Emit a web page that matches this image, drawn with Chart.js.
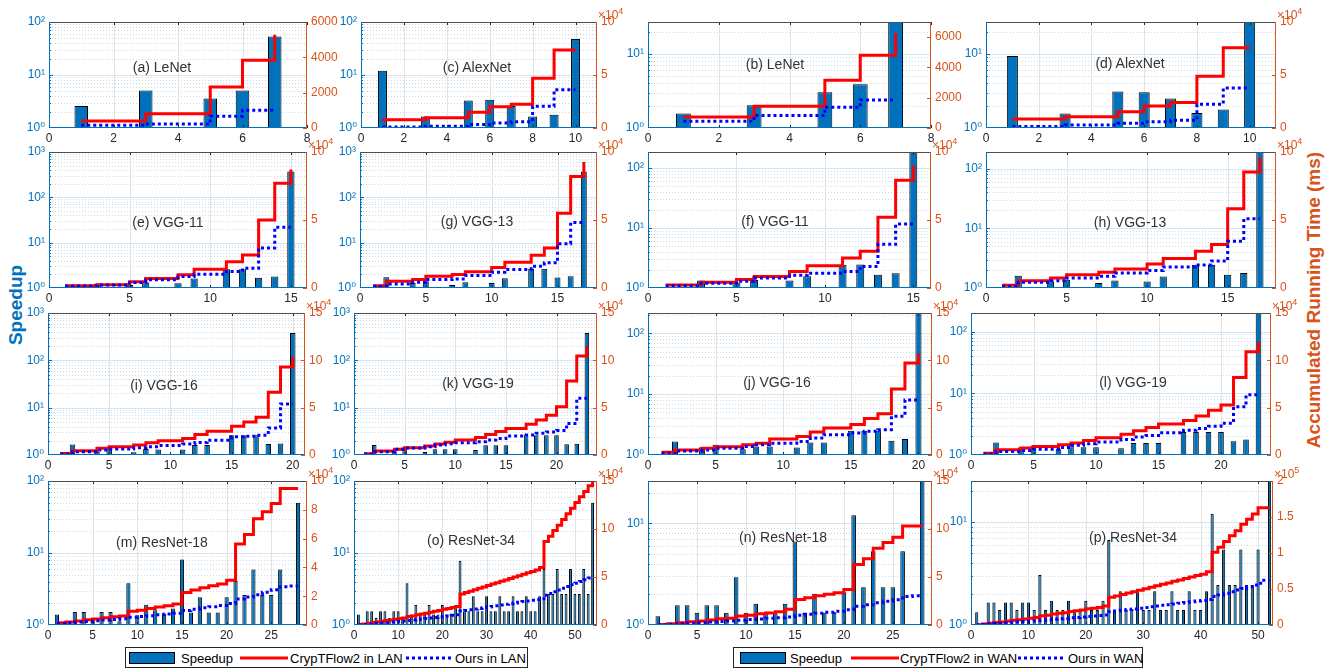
<!DOCTYPE html>
<html>
<head>
<meta charset="utf-8">
<script src="https://cdn.jsdelivr.net/npm/chart.js@4.4.0/dist/chart.umd.min.js"></script>
<style>
  body { margin: 0; background: #fff; width: 1328px; height: 671px; position: relative; overflow: hidden;
         font-family: 'Liberation Sans', Arial, 'DejaVu Sans', sans-serif; }
  canvas { position: absolute; }
  .ptitle { position: absolute; transform: translate(-50%, -50%); font-size: 14px; color: #333; white-space: nowrap; }
  .vlabel { position: absolute; font-weight: bold; font-size: 19px; white-space: nowrap;
            transform: translate(-50%, -50%) rotate(-90deg); }
  .legend { position: absolute; top: 647px; height: 21px; border: 1px solid #262626; background: #fff;
            box-sizing: border-box; font-size: 13px; color: #000; }
  .legend span { position: absolute; top: 50%; transform: translateY(-50%); white-space: nowrap; }
  .sw-bar { width: 46px; height: 12px; background: #0072BD; border: 1px solid #000; box-sizing: border-box; }
  .sw-red { width: 48px; height: 3px; background: #f00; }
  .sw-blue { width: 45px; height: 3px; background: repeating-linear-gradient(90deg, #00f 0 3px, transparent 3px 6px); }
</style>
</head>
<body>
<div class="vlabel" style="left:16px;top:305px;color:#0072BD">Speedup</div>
<div class="vlabel" style="left:1314px;top:300px;color:#D95319">Accumulated Running Time (ms)</div>

<div class="legend" style="left:125px;width:403px">
  <span class="sw-bar" style="left:3px"></span><span style="left:55px">Speedup</span>
  <span class="sw-red" style="left:114px"></span><span style="left:164px">CrypTFlow2 in LAN</span>
  <span class="sw-blue" style="left:280px"></span><span style="left:329px">Ours in LAN</span>
</div>
<div class="legend" style="left:733px;width:410px">
  <span class="sw-bar" style="left:6px"></span><span style="left:56px">Speedup</span>
  <span class="sw-red" style="left:117px"></span><span style="left:166px">CrypTFlow2 in WAN</span>
  <span class="sw-blue" style="left:284px"></span><span style="left:334px">Ours in WAN</span>
</div>

<script>
// (a) LeNet LAN
const speedupA = [2.6, 1.03, 5.1, 1.03, 3.6, 5.1, 53]
const crypA = [400, 400, 800, 800, 2320, 3830, 5280]
const oursA = [150, 150, 230, 230, 660, 1000, 1000]
// (c) AlexNet LAN
const speedupC = [12, 1.0, 1.65, 1.0, 3.3, 3.4, 2.6, 1.65, 1.78, 48]
const crypC = [7900, 7900, 9700, 9700, 14800, 20000, 22400, 47000, 73500, 73500]
const oursC = [1000, 1000, 1600, 1600, 3200, 4700, 6000, 20500, 36000, 36000]
// (b) LeNet WAN
const speedupB = [1.57, 1.0, 2.03, 1.03, 3.03, 3.9, 40]
const crypB = [720, 720, 1440, 1440, 3160, 4800, 6280]
const oursB = [440, 440, 830, 830, 1370, 1850, 1850]
// (d) AlexNet WAN
const speedupD = [9.4, 1.0, 1.57, 1.0, 3.1, 3.05, 2.5, 1.6, 1.78, 48]
const crypD = [8600, 8600, 10500, 10500, 15300, 20800, 24000, 48900, 75700, 75700]
const oursD = [1300, 1300, 2900, 2900, 4500, 5800, 7300, 22400, 37700, 37700]
// (e) VGG-11 LAN
const speedupE = [1.05, 1.0, 1.26, 1.0, 1.16, 1.33, 1.0, 1.28, 1.62, 1.0, 2.6, 2.6, 1.68, 1.79, 372]
const crypE = [1700, 1700, 2400, 2400, 4600, 7000, 7000, 9700, 13800, 13800, 19300, 24200, 50000, 77000, 87200]
const oursE = [1450, 1450, 2200, 2200, 4100, 6000, 6000, 8500, 10100, 10100, 12100, 14500, 29500, 44700, 44700]
// (g) VGG-13 LAN
const speedupG = [1.05, 1.73, 1.0, 1.29, 1.41, 1.0, 1.17, 1.34, 1.0, 1.29, 1.64, 1.0, 2.65, 2.65, 1.7, 1.82, 372]
const crypG = [1700, 4900, 4900, 6200, 8600, 8600, 9900, 11900, 11900, 15100, 19000, 19000, 24000, 29400, 55000, 82000, 92600]
const oursG = [1200, 3000, 3000, 4200, 6200, 6200, 6700, 9100, 9100, 11600, 13600, 13600, 16000, 18500, 32600, 48100, 48100]
// (f) VGG-11 WAN
const speedupF = [1.03, 1.0, 1.33, 1.0, 1.24, 1.36, 1.02, 1.33, 1.57, 1.02, 2.43, 2.46, 1.67, 1.76, 300]
const crypF = [2200, 2200, 4200, 4200, 6200, 8400, 8400, 12100, 16300, 16300, 22000, 27000, 52000, 79200, 90100]
const oursF = [1700, 1700, 3500, 3500, 5000, 7400, 7400, 9400, 10900, 10900, 12100, 15800, 32200, 47000, 47000]
// (h) VGG-13 WAN
const speedupH = [1.03, 1.6, 1.0, 1.29, 1.38, 1.0, 1.21, 1.34, 1.0, 1.29, 1.56, 1.0, 2.45, 2.45, 1.67, 1.78, 300]
const crypH = [2000, 5400, 5400, 7400, 9800, 9800, 11500, 14000, 14000, 17700, 21600, 21600, 27000, 31900, 58200, 85300, 95800]
const oursH = [1200, 4200, 4200, 5400, 7400, 7400, 8600, 11000, 11000, 12800, 15500, 15500, 17000, 19900, 34400, 50900, 50900]
// (i) VGG-16 LAN
const speedupI = [1.05, 1.67, 1.0, 1.17, 1.49, 1.0, 1.14, 1.34, 1.31, 1.0, 1.31, 1.62, 1.62, 1.0, 2.6, 2.6, 2.6, 1.7, 1.75, 380]
const crypI = [1700, 4500, 4500, 7000, 8700, 8700, 10500, 12900, 15000, 15000, 17400, 21600, 25100, 25100, 30300, 34800, 40000, 66200, 93000, 103500]
const oursI = [1000, 3500, 3500, 5200, 6300, 6300, 7700, 8700, 10100, 10100, 11500, 13200, 15700, 15700, 19200, 19900, 20900, 28600, 54000, 54000]
// (k) VGG-19 LAN
const speedupK = [1.05, 1.62, 1.0, 1.2, 1.47, 1.0, 1.16, 1.32, 1.32, 1.32, 1.0, 1.27, 1.6, 1.6, 1.6, 1.0, 2.6, 2.6, 2.6, 2.6, 1.68, 1.73, 380]
const crypK = [1400, 4200, 4200, 6000, 7700, 7700, 9500, 11500, 13500, 15800, 15800, 18500, 21600, 24800, 28000, 28000, 32500, 37000, 42000, 51000, 78200, 104600, 115000]
const oursK = [1000, 3500, 3500, 6000, 7400, 7400, 8800, 10600, 12000, 13000, 13000, 14100, 15800, 17300, 20000, 20000, 21100, 22900, 24300, 26000, 33400, 59900, 59900]
// (j) VGG-16 WAN
const speedupJ = [1.04, 1.67, 1.0, 1.34, 1.47, 1.0, 1.24, 1.38, 1.38, 1.0, 1.33, 1.6, 1.6, 1.0, 2.5, 2.5, 2.5, 1.71, 1.83, 300]
const crypJ = [2800, 5400, 5400, 7100, 8600, 8600, 10700, 12500, 16800, 16800, 19600, 24300, 28600, 28600, 32100, 38600, 43600, 69600, 97100, 107000]
const oursJ = [1800, 4300, 4300, 5400, 7100, 7100, 8900, 10700, 12500, 12500, 14300, 17900, 21400, 21400, 23200, 25000, 26800, 41000, 58200, 58200]
// (l) VGG-19 WAN
const speedupL = [1.05, 1.6, 1.02, 1.34, 1.43, 1.02, 1.24, 1.38, 1.34, 1.34, 1.02, 1.29, 1.56, 1.56, 1.56, 1.02, 2.36, 2.36, 2.36, 2.36, 1.67, 1.78, 300]
const crypL = [1800, 5500, 5500, 7300, 9100, 9100, 10900, 12700, 15300, 18200, 18200, 21800, 25500, 29100, 32700, 32700, 36400, 41100, 47300, 52700, 81800, 109000, 119000]
const oursL = [1100, 3600, 3600, 4700, 6200, 6200, 8000, 10200, 12000, 13800, 13800, 16400, 18900, 20700, 23600, 23600, 26200, 28000, 30500, 33500, 50900, 63600, 63600]
// (m) ResNet-18 LAN
const speedupM = [1.4, 1.0, 1.52, 1.52, 1.19, 1.52, 1.52, 1.13, 3.8, 1.37, 1.91, 1.6, 1.44, 1.69, 8.1, 1.49, 2.43, 1.49, 1.49, 2.43,
  4.1, 2.62, 5.9, 2.62, 2.62, 5.9, 1.0, 50]
const crypM = [1500, 2000, 2800, 3600, 4200, 5000, 5800, 6300, 9500, 10300, 11500, 12500, 13300, 14500, 22500, 24300, 25900, 27200, 28500, 31000,
  56200, 62900, 73700, 78700, 84300, 94800, 94800, 94800]
const oursM = [1100, 1500, 2000, 2500, 2900, 3400, 3900, 4300, 5400, 5900, 6500, 7100, 7600, 8200, 10100, 11000, 11900, 12700, 13600, 15000,
  18000, 19500, 21000, 22800, 24500, 26500, 27000, 27000]
// (o) ResNet-34 LAN
const speedupO = [1.4, 1.0, 1.55, 1.55, 1.25, 1.55, 1.55, 1.25, 1.55, 1.55, 1.25, 3.8, 1.4, 1.9, 1.4, 1.4, 1.9, 1.4, 1.4, 1.9,
  1.4, 1.4, 1.9, 7.8, 1.55, 1.55, 2.5, 1.55, 1.55, 2.5, 1.55, 1.55, 2.5, 1.55, 1.55, 2.5, 1.55, 1.55, 2.5, 1.55,
  1.55, 2.5, 6.0, 2.7, 2.7, 6.0, 2.7, 2.7, 6.0, 2.7, 2.7, 6.0, 2.7, 50]
const crypO = [500, 1000, 1800, 2600, 3200, 4000, 4800, 5300, 6100, 6900, 7400, 8800, 9500, 10600, 11500, 12300, 13400, 14200, 15100, 16300,
  17200, 18100, 19400, 32400, 33800, 35200, 36800, 38200, 39600, 41200, 42600, 44000, 45600, 47000, 48400, 50000, 51400, 52800, 54400, 55800,
  57200, 60000, 87000, 92500, 98500, 104000, 110000, 116000, 121500, 127500, 133500, 139000, 145000, 149000]
const oursO = [300, 600, 1000, 1400, 1800, 2200, 2600, 3000, 3400, 3800, 4200, 4800, 5300, 5800, 6300, 6800, 7300, 7900, 8400, 9000,
  9500, 10100, 10700, 14500, 15200, 15900, 16600, 17300, 18000, 18700, 19400, 20100, 20800, 21500, 22200, 23000, 23700, 24400, 25100, 25800,
  26500, 27300, 31000, 32800, 34600, 36400, 38200, 40000, 41800, 43600, 45400, 47200, 49000, 50000]
// (n) ResNet-18 WAN
const speedupN = [1.22, 1.0, 1.56, 1.56, 1.32, 1.56, 1.56, 1.32, 2.94, 1.32, 1.62, 1.32, 1.3, 1.62, 6.6, 1.32, 2.03, 1.32, 1.32, 2.1,
  12, 2.35, 5.3, 2.35, 2.35, 5.3, 1.0, 40]
const crypN = [500, 1200, 2300, 3400, 4200, 5300, 6400, 7100, 9300, 10100, 11600, 12600, 13800, 16500, 26600, 28500, 30500, 32000, 33500, 37000,
  63000, 69000, 80000, 86000, 91500, 103000, 103000, 103000]
const oursN = [300, 800, 1400, 2000, 2500, 3100, 3700, 4200, 5000, 5600, 6300, 7000, 7600, 8300, 10200, 11200, 12300, 13300, 14300, 15900,
  19500, 21000, 23200, 24800, 26400, 29800, 30500, 30500]
// (p) ResNet-34 WAN
const speedupP = [1.33, 1.0, 1.65, 1.65, 1.4, 1.65, 1.65, 1.4, 1.65, 1.65, 1.4, 3.05, 1.4, 1.72, 1.4, 1.4, 1.72, 1.4, 1.4, 1.72,
  1.4, 1.4, 1.72, 6.7, 1.4, 2.13, 1.4, 1.4, 2.13, 1.4, 1.4, 2.13, 1.4, 1.4, 2.13, 1.4, 1.4, 2.13, 1.4, 1.4,
  2.13, 12, 2.45, 5.4, 2.45, 2.45, 5.4, 2.45, 2.45, 5.4, 1.0, 40]
const crypP = [500, 1300, 2400, 3500, 4300, 5400, 6500, 7300, 8400, 9500, 10300, 12700, 13600, 15200, 16200, 17100, 18700, 19700, 20700, 22400,
  23400, 24400, 26500, 38500, 40300, 42300, 44300, 46200, 48400, 50400, 52300, 54500, 56500, 58400, 60600, 62600, 64500, 66700, 68700, 70600,
  74000, 101000, 108000, 116000, 124000, 131000, 140000, 147000, 154000, 163000, 163000, 163000]
const oursP = [300, 800, 1400, 2000, 2500, 3100, 3700, 4200, 4800, 5400, 5900, 6700, 7300, 8000, 8600, 9200, 9900, 10500, 11100, 11900,
  12500, 13200, 14000, 18500, 19400, 20400, 21400, 22300, 23300, 24300, 25200, 26300, 27300, 28200, 29300, 30300, 31200, 32300, 33300, 34200,
  35500, 39500, 41800, 44000, 46200, 48500, 50800, 53000, 55500, 58000, 62000, 62000]

const BLUE = '#0072BD'
const ORANGE = '#D95319'
const FONT = "'Liberation Sans', Arial, 'DejaVu Sans', sans-serif"
const SUP = ['\u2070', '\u00B9', '\u00B2', '\u00B3', '\u2074', '\u2075']

// plot box = [left, top, right, bottom] of the axes area on the page
const panels = [
  { title: '(a) LeNet', box: [49, 22, 307, 128], tx: 162, ty: 67, xMax: 8, xStep: 2, yMax: 100, rMax: 6000, rStep: 2000, exp: 0, bw: 0.42, data: [speedupA, crypA, oursA] },
  { title: '(c) AlexNet', box: [361, 22, 597, 128], tx: 477, ty: 67, xMax: 11, xStep: 2, yMax: 100, rMax: 100000, rStep: 50000, exp: 4, bw: 0.42, data: [speedupC, crypC, oursC] },
  { title: '(b) LeNet', box: [648, 22, 931, 128], tx: 775, ty: 64, xMax: 8, xStep: 2, yMax: 27, rMax: 7000, rStep: 2000, exp: 0, bw: 0.42, data: [speedupB, crypB, oursB] },
  { title: '(d) AlexNet', box: [986, 22, 1276, 128], tx: 1130, ty: 63, xMax: 11, xStep: 2, yMax: 27, rMax: 100000, rStep: 50000, exp: 4, bw: 0.42, data: [speedupD, crypD, oursD] },

  { title: '(e) VGG-11', box: [49, 152, 307, 288], tx: 168, ty: 222, xMax: 16, xStep: 5, yMax: 1000, rMax: 100000, rStep: 50000, exp: 4, bw: 0.45, data: [speedupE, crypE, oursE] },
  { title: '(g) VGG-13', box: [360, 152, 597, 288], tx: 477, ty: 221, xMax: 18, xStep: 5, yMax: 1000, rMax: 100000, rStep: 50000, exp: 4, bw: 0.45, data: [speedupG, crypG, oursG] },
  { title: '(f) VGG-11', box: [648, 152, 931, 288], tx: 775, ty: 221, xMax: 16, xStep: 5, yMax: 185, rMax: 100000, rStep: 50000, exp: 4, bw: 0.45, data: [speedupF, crypF, oursF] },
  { title: '(h) VGG-13', box: [986, 152, 1276, 288], tx: 1130, ty: 222, xMax: 18, xStep: 5, yMax: 190, rMax: 100000, rStep: 50000, exp: 4, bw: 0.45, data: [speedupH, crypH, oursH] },

  { title: '(i) VGG-16', box: [48, 313, 305, 455], tx: 164, ty: 385, xMax: 21, xStep: 5, yMax: 1000, rMax: 150000, rStep: 50000, exp: 4, bw: 0.45, data: [speedupI, crypI, oursI] },
  { title: '(k) VGG-19', box: [354, 313, 597, 455], tx: 478, ty: 383, xMax: 24, xStep: 5, yMax: 1000, rMax: 150000, rStep: 50000, exp: 4, bw: 0.45, data: [speedupK, crypK, oursK] },
  { title: '(j) VGG-16', box: [648, 313, 932, 455], tx: 777, ty: 382, xMax: 21, xStep: 5, yMax: 215, rMax: 150000, rStep: 50000, exp: 4, bw: 0.45, data: [speedupJ, crypJ, oursJ] },
  { title: '(l) VGG-19', box: [971, 313, 1271, 455], tx: 1133, ty: 382, xMax: 24, xStep: 5, yMax: 200, rMax: 150000, rStep: 50000, exp: 4, bw: 0.45, data: [speedupL, crypL, oursL] },

  { title: '(m) ResNet-18', box: [48, 481, 307, 625], tx: 162, ty: 542, xMax: 29, xStep: 5, yMax: 100, rMax: 100000, rStep: 20000, exp: 4, bw: 0.47, data: [speedupM, crypM, oursM] },
  { title: '(o) ResNet-34', box: [354, 481, 597, 625], tx: 471, ty: 540, xMax: 55, xStep: 10, yMax: 100, rMax: 150000, rStep: 50000, exp: 4, bw: 0.65, data: [speedupO, crypO, oursO] },
  { title: '(n) ResNet-18', box: [648, 481, 932, 625], tx: 783, ty: 537, xMax: 29, xStep: 5, yMax: 26, rMax: 150000, rStep: 50000, exp: 4, bw: 0.47, data: [speedupN, crypN, oursN] },
  { title: '(p) ResNet-34', box: [971, 481, 1273, 625], tx: 1133, ty: 537, xMax: 52.6, xStep: 10, yMax: 25, rMax: 200000, rStep: 50000, exp: 5, bw: 0.55, data: [speedupP, crypP, oursP] },
]

const AX_W = 38   // width kept for each y axis
const X_H = 20    // height kept for the x axis
const PAD_TOP = 18

function seg(ctx, x1, y1, x2, y2) {
  ctx.beginPath()
  ctx.moveTo(x1, y1)
  ctx.lineTo(x2, y2)
  ctx.stroke()
}

function stepTicks(max, step) {
  const out = []
  for (let v = 0; v <= max + 1e-9; v += step) out.push({ value: v })
  return out
}

// MATLAB-like grid, inward ticks, box and the x10^n note of the right axis
const matlabAxes = {
  id: 'matlabAxes',
  beforeDatasetsDraw(chart) {
    const { ctx, chartArea: a } = chart
    const { x, y } = chart.scales
    ctx.save()
    ctx.lineWidth = 1
    ctx.strokeStyle = '#e3e3e3'
    x.ticks.forEach((t) => {
      const px = Math.round(x.getPixelForValue(t.value)) + 0.5
      if (px > a.left + 1 && px < a.right - 1) seg(ctx, px, a.top, px, a.bottom)
    })
    for (let d = 1; d < y.max; d *= 10) {
      for (let k = 1; k < 10; k++) {
        const v = d * k
        if (v <= 1 || v >= y.max) continue
        const py = Math.round(y.getPixelForValue(v)) + 0.5
        ctx.setLineDash(k === 1 ? [] : [1, 2])
        ctx.strokeStyle = k === 1 ? '#d3e5f2' : '#c6dcec'
        seg(ctx, a.left, py, a.right, py)
      }
    }
    ctx.restore()
  },
  afterDatasetsDraw(chart, args, opts) {
    const { ctx, chartArea: a } = chart
    const { x, y, y2 } = chart.scales
    ctx.save()
    ctx.lineWidth = 1
    ctx.strokeStyle = '#262626'
    x.ticks.forEach((t) => {
      const px = Math.round(x.getPixelForValue(t.value)) + 0.5
      seg(ctx, px, a.bottom, px, a.bottom - 3)
      seg(ctx, px, a.top, px, a.top + 3)
    })
    ctx.strokeStyle = BLUE
    for (let d = 1; d < y.max; d *= 10) {
      for (let k = 1; k < 10; k++) {
        const v = d * k
        if (v <= 1 || v >= y.max) continue
        const py = Math.round(y.getPixelForValue(v)) + 0.5
        seg(ctx, a.left, py, a.left + (k === 1 ? 4 : 2), py)
      }
    }
    ctx.strokeStyle = ORANGE
    y2.ticks.forEach((t) => {
      const py = Math.round(y2.getPixelForValue(t.value)) + 0.5
      seg(ctx, a.right, py, a.right - 4, py)
    })
    // box
    ctx.strokeStyle = '#4d4d4d'
    seg(ctx, a.left, a.top + 0.5, a.right, a.top + 0.5)
    ctx.strokeStyle = BLUE
    seg(ctx, a.left, a.bottom - 0.5, a.right, a.bottom - 0.5)
    seg(ctx, a.left + 0.5, a.top, a.left + 0.5, a.bottom)
    ctx.strokeStyle = ORANGE
    seg(ctx, a.right - 0.5, a.top, a.right - 0.5, a.bottom)
    if (opts.exp) {
      ctx.fillStyle = ORANGE
      ctx.textBaseline = 'alphabetic'
      ctx.font = '12px ' + FONT
      ctx.fillText('\u00D710', a.right + 1, a.top - 3)
      const w = ctx.measureText('\u00D710').width
      ctx.font = '9px ' + FONT
      ctx.fillText(String(opts.exp), a.right + 1 + w, a.top - 8)
    }
    ctx.restore()
  },
}

function points(values) {
  return values.map((v, i) => ({ x: i + 1, y: v }))
}

function logLabel(v) {
  const l = Math.log10(v)
  if (Math.abs(l - Math.round(l)) < 1e-9) return '10' + SUP[Math.round(l)]
  return ''
}

panels.forEach((p) => {
  const [L, T, R, B] = p.box
  const canvas = document.createElement('canvas')
  canvas.width = R - L + 2 * AX_W
  canvas.height = B - T + PAD_TOP + X_H
  canvas.style.left = (L - AX_W) + 'px'
  canvas.style.top = (T - PAD_TOP) + 'px'
  document.body.appendChild(canvas)

  const label = document.createElement('div')
  label.className = 'ptitle'
  label.style.left = p.tx + 'px'
  label.style.top = p.ty + 'px'
  label.textContent = p.title
  document.body.appendChild(label)

  const [speedup, cryp, ours] = p.data
  const font = { family: FONT, size: 12 }

  new Chart(canvas.getContext('2d'), {
    type: 'bar',
    data: {
      datasets: [
        {
          type: 'line', label: 'Ours', data: points(ours), yAxisID: 'y2',
          borderColor: '#0000FF', borderWidth: 3, borderDash: [3, 3], stepped: true,
          pointRadius: 0, fill: false, order: 0,
        },
        {
          type: 'line', label: 'CrypTFlow2', data: points(cryp), yAxisID: 'y2',
          borderColor: '#FF0000', borderWidth: 3, stepped: true,
          pointRadius: 0, fill: false, order: 1,
        },
        {
          type: 'bar', label: 'Speedup', data: points(speedup), yAxisID: 'y',
          backgroundColor: BLUE, borderColor: '#000', borderWidth: 1,
          categoryPercentage: 1, barPercentage: p.bw, order: 2,
        },
      ],
    },
    options: {
      responsive: false,
      animation: false,
      devicePixelRatio: 1,
      layout: { padding: { top: PAD_TOP, left: 0, right: 0, bottom: 0 } },
      plugins: {
        legend: { display: false },
        tooltip: { enabled: false },
        matlabAxes: { exp: p.exp },
      },
      scales: {
        x: {
          type: 'linear', min: 0, max: p.xMax, offset: false,
          grid: { display: false, drawTicks: false, offset: false }, border: { display: false },
          ticks: { autoSkip: false, maxRotation: 0, color: '#262626', font, padding: 3 },
          afterBuildTicks(s) { s.ticks = stepTicks(p.xMax, p.xStep) },
          afterFit(s) { s.height = X_H },
        },
        y: {
          type: 'logarithmic', position: 'left', min: 1, max: p.yMax,
          grid: { display: false, drawTicks: false }, border: { display: false },
          ticks: { autoSkip: false, color: BLUE, font, padding: 4, callback: logLabel },
          afterFit(s) { s.width = AX_W },
        },
        y2: {
          type: 'linear', position: 'right', min: 0, max: p.rMax,
          grid: { display: false, drawTicks: false }, border: { display: false },
          ticks: {
            autoSkip: false, color: ORANGE, font, padding: 4,
            callback: (v) => p.exp ? String(+(v / Math.pow(10, p.exp)).toFixed(2)) : String(v),
          },
          afterBuildTicks(s) { s.ticks = stepTicks(p.rMax, p.rStep) },
          afterFit(s) { s.width = AX_W },
        },
      },
    },
    plugins: [matlabAxes],
  })
})
</script>
</body>
</html>
